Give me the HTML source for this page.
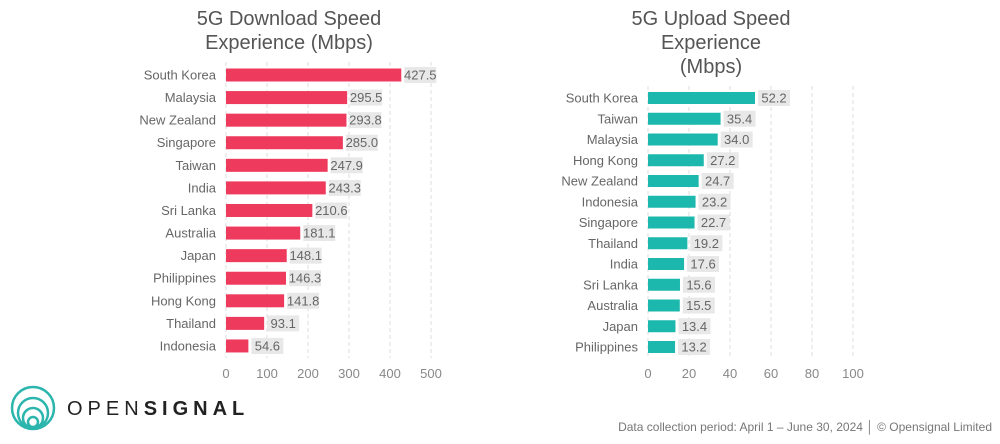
<!DOCTYPE html>
<html><head><style>
body{margin:0;width:1000px;height:439px;background:#fff;font-family:"Liberation Sans",sans-serif;overflow:hidden}
</style></head><body>
<svg width="1000" height="439" xmlns="http://www.w3.org/2000/svg" font-family="Liberation Sans, sans-serif">
<g fill="#555" font-size="20" text-anchor="middle">
<text x="289" y="25">5G Download Speed</text>
<text x="289" y="49">Experience (Mbps)</text>
<text x="711" y="25">5G Upload Speed</text>
<text x="711" y="49">Experience</text>
<text x="711" y="73">(Mbps)</text>
</g>
<g stroke="#ddd" stroke-dasharray="4,3" stroke-width="1">
<line x1="226" y1="62" x2="226" y2="358"/><line x1="267" y1="62" x2="267" y2="358"/><line x1="308" y1="62" x2="308" y2="358"/><line x1="349" y1="62" x2="349" y2="358"/><line x1="390" y1="62" x2="390" y2="358"/><line x1="431" y1="62" x2="431" y2="358"/>
<line x1="648" y1="86" x2="648" y2="358"/><line x1="689" y1="86" x2="689" y2="358"/><line x1="730" y1="86" x2="730" y2="358"/><line x1="771" y1="86" x2="771" y2="358"/><line x1="812" y1="86" x2="812" y2="358"/><line x1="853" y1="86" x2="853" y2="358"/>
</g>
<g fill="#888" font-size="13" text-anchor="middle">
<text x="226" y="378">0</text><text x="267" y="378">100</text><text x="308" y="378">200</text><text x="349" y="378">300</text><text x="390" y="378">400</text><text x="431" y="378">500</text>
<text x="648" y="378">0</text><text x="689" y="378">20</text><text x="730" y="378">40</text><text x="771" y="378">60</text><text x="812" y="378">80</text><text x="853" y="378">100</text>
</g>
<g id="L"></g><g id="R"></g>
<g fill="none" stroke="#2bb5ad" stroke-width="2.5">
<circle cx="33" cy="408" r="21"/><circle cx="33" cy="413" r="15"/><circle cx="33" cy="418" r="10"/><circle cx="33" cy="422" r="5"/>
</g>
<text x="67" y="415" font-size="20" fill="#222" letter-spacing="5">OPEN<tspan font-weight="bold">SIGNAL</tspan></text>
<text x="992" y="431" font-size="12" fill="#777" text-anchor="end">Data collection period: April 1 – June 30, 2024 │ © Opensignal Limited</text>
</svg>
<script>
function draw(id,data,x0,scale,y0,step,bh,color){
 var g=document.getElementById(id),s="";
 data.forEach(function(d,i){
  var y=y0+i*step,w=d[1]*scale;
  s+='<text x="'+(x0-10)+'" y="'+(y+4.5)+'" font-size="13" fill="#666" text-anchor="end">'+d[0]+'</text>';
  s+='<rect x="'+x0+'" y="'+(y-bh/2)+'" width="'+w+'" height="'+bh+'" fill="'+color+'"/>';
  s+='<rect x="'+(x0+w+3)+'" y="'+(y-8)+'" width="32" height="16" fill="#e8e8e8"/>';
  s+='<text x="'+(x0+w+19)+'" y="'+(y+4.5)+'" font-size="13" fill="#666" text-anchor="middle">'+d[1].toFixed(1)+'</text>';
 });
 g.innerHTML=s;
}
draw("L",[["South Korea",427.5],["Malaysia",295.5],["New Zealand",293.8],["Singapore",285.0],["Taiwan",247.9],["India",243.3],["Sri Lanka",210.6],["Australia",181.1],["Japan",148.1],["Philippines",146.3],["Hong Kong",141.8],["Thailand",93.1],["Indonesia",54.6]],226,0.41,75,22.58,13,"#ee3a5c");
draw("R",[["South Korea",52.2],["Taiwan",35.4],["Malaysia",34.0],["Hong Kong",27.2],["New Zealand",24.7],["Indonesia",23.2],["Singapore",22.7],["Thailand",19.2],["India",17.6],["Sri Lanka",15.6],["Australia",15.5],["Japan",13.4],["Philippines",13.2]],648,2.05,98,20.75,12,"#1cb8ad");
</script>
</body></html>
